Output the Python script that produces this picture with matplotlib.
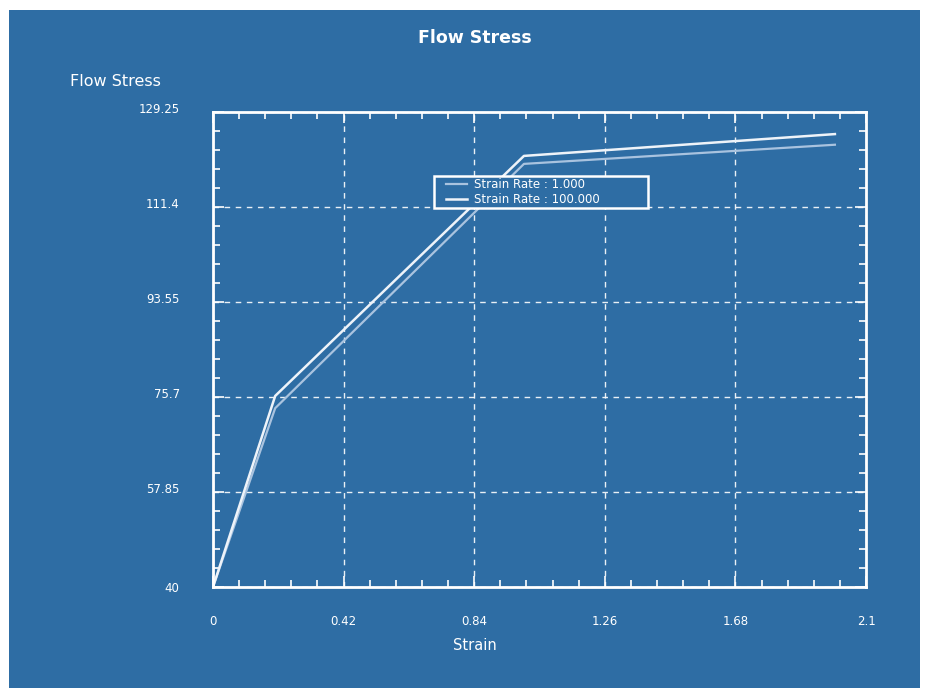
import matplotlib.pyplot as plt
from matplotlib.patches import Rectangle
from matplotlib.ticker import AutoMinorLocator
from matplotlib.transforms import ScaledTranslation
from matplotlib.legend_handler import HandlerLine2D

# flow curves at two strain rates
strain = [0.0, 0.2, 1.0, 2.0]
stress_rate_1 = [40.0, 73.6, 119.5, 123.1]
stress_rate_100 = [40.0, 75.9, 121.0, 125.1]

x_ticks = [0, 0.42, 0.84, 1.26, 1.68, 2.1]
x_labels = ['0', '0.42', '0.84', '1.26', '1.68', '2.1']
y_ticks = [40, 57.85, 75.7, 93.55, 111.4, 129.25]
y_labels = ['40', '57.85', '75.7', '93.55', '111.4', '129.25']

bg = '#2e6da4'
fg = 'white'
plt.rcParams['font.family'] = ['DejaVu Sans']

fig = plt.figure(figsize=(9.27, 6.88), dpi=100)
fig.patch.set_facecolor('white')
fig.patches.append(Rectangle((9 / 927, 0), (920 - 9) / 927, 1 - 10 / 688,
                             transform=fig.transFigure, facecolor=bg,
                             edgecolor='none', zorder=-1))

ax = fig.add_axes([213 / 927, 1 - 587 / 688, (866 - 213) / 927, (587 - 112) / 688])
ax.set_zorder(1)
ax.set_facecolor(bg)

l1, = ax.plot(strain, stress_rate_1, color='#a9c3df', lw=1.6, label='Strain Rate : 1.000')
l2, = ax.plot(strain, stress_rate_100, color='#eef3f9', lw=1.8, label='Strain Rate : 100.000')

ax.set_xlim(0, 2.1)
ax.set_ylim(40, 129.25)
ax.set_xticks(x_ticks)
ax.set_xticklabels(x_labels)
ax.set_yticks(y_ticks)
ax.set_yticklabels(y_labels)
ax.xaxis.set_minor_locator(AutoMinorLocator(5))
ax.yaxis.set_minor_locator(AutoMinorLocator(5))

ax.tick_params(which='both', direction='in', top=True, right=True, colors=fg,
               labelsize=8.5, width=1.2)
ax.tick_params(which='major', length=8)
ax.tick_params(which='minor', length=5)
ax.tick_params(axis='x', which='major', pad=20.5)
ax.tick_params(axis='y', which='major', pad=24)
# y labels sit a little above their ticks
lift = ScaledTranslation(0, 4 / 100, fig.dpi_scale_trans)
for lbl in ax.get_yticklabels()[1:]:
    lbl.set_transform(lbl.get_transform() + lift)
for lbl in ax.get_xticklabels() + ax.get_yticklabels():
    lbl.set_color(fg)

for s in ax.spines.values():
    s.set_color(fg)
    s.set_linewidth(2)

ax.grid(which='major', color=fg, linestyle=(0, (4, 4)), linewidth=1, alpha=0.9)

fig.text(475 / 927, 1 - 646 / 688, 'Strain', color=fg, fontsize=10.5,
         ha='center', va='center')
fig.text(70 / 927, 1 - 82 / 688, 'Flow Stress', color=fg, fontsize=11.5,
         ha='left', va='center')
fig.text(475 / 927, 1 - 38 / 688, 'Flow Stress', color=fg, fontsize=12.5,
         fontweight='bold', ha='center', va='center')

# legend box spans a fixed width inside the axes
lx0, lx1 = (434 - 213) / 653, (648 - 213) / 653
ly0, ly1 = (587 - 209) / 475, (587 - 176) / 475
leg = ax.legend(loc='upper left', bbox_to_anchor=(lx0, ly0, lx1 - lx0, ly1 - ly0),
                mode='expand', fontsize=8.5,
                handler_map={l1: HandlerLine2D(xpad=0.85), l2: HandlerLine2D(xpad=0.85)},
                frameon=True, fancybox=False, facecolor=bg, edgecolor=fg,
                framealpha=1, handlelength=2.6, handletextpad=0.6,
                borderpad=0.2, labelspacing=0.15, borderaxespad=0)
leg.get_frame().set_linewidth(1.8)
for t in leg.get_texts():
    t.set_color(fg)

fig.savefig('out.png', dpi=100, facecolor=fig.get_facecolor())
